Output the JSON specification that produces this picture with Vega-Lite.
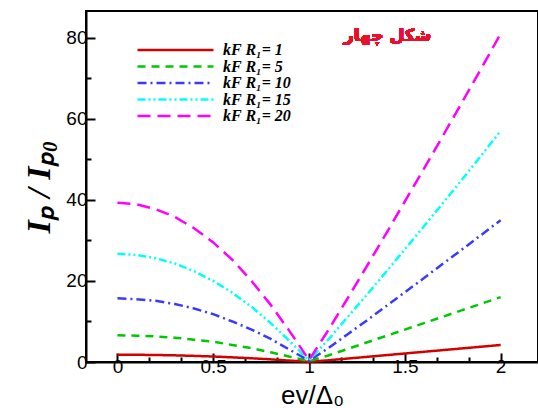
{
"$schema": "https://vega.github.io/schema/vega-lite/v6.json",
"width": 452, "height": 351,
"autosize": {"type": "none"},
"padding": {"left": 86, "top": 11, "right": 0, "bottom": 46},
"background": "white",
"config": {
 "view": {"stroke": "black", "strokeWidth": 2},
 "axis": {"grid": false, "domainColor": "black", "domainWidth": 2, "tickColor": "black", "tickWidth": 2, "labelFont": "Liberation Sans", "labelFontSize": 19, "labelColor": "black", "labelOverlap": false, "labelBound": false, "titleColor": "black"}
},
"data": {"values": [
{"s":"kF R₁= 1","x":0,"y":1.8},{"s":"kF R₁= 1","x":0.1,"y":1.78},{"s":"kF R₁= 1","x":0.2,"y":1.73},{"s":"kF R₁= 1","x":0.3,"y":1.64},{"s":"kF R₁= 1","x":0.4,"y":1.51},{"s":"kF R₁= 1","x":0.5,"y":1.35},{"s":"kF R₁= 1","x":0.6,"y":1.15},{"s":"kF R₁= 1","x":0.7,"y":0.92},{"s":"kF R₁= 1","x":0.8,"y":0.65},{"s":"kF R₁= 1","x":0.9,"y":0.34},{"s":"kF R₁= 1","x":1,"y":0.05},{"s":"kF R₁= 1","x":1.1,"y":0.42},{"s":"kF R₁= 1","x":1.2,"y":0.84},{"s":"kF R₁= 1","x":1.3,"y":1.26},{"s":"kF R₁= 1","x":1.4,"y":1.68},{"s":"kF R₁= 1","x":1.5,"y":2.1},{"s":"kF R₁= 1","x":1.6,"y":2.52},{"s":"kF R₁= 1","x":1.7,"y":2.94},{"s":"kF R₁= 1","x":1.8,"y":3.36},{"s":"kF R₁= 1","x":1.9,"y":3.78},{"s":"kF R₁= 1","x":2,"y":4.2},
{"s":"kF R₁= 5","x":0,"y":6.6},{"s":"kF R₁= 5","x":0.1,"y":6.5},{"s":"kF R₁= 5","x":0.2,"y":6.3},{"s":"kF R₁= 5","x":0.3,"y":6.0},{"s":"kF R₁= 5","x":0.4,"y":5.5},{"s":"kF R₁= 5","x":0.5,"y":5.0},{"s":"kF R₁= 5","x":0.6,"y":4.2},{"s":"kF R₁= 5","x":0.7,"y":3.4},{"s":"kF R₁= 5","x":0.8,"y":2.4},{"s":"kF R₁= 5","x":0.9,"y":1.3},{"s":"kF R₁= 5","x":1,"y":0.2},{"s":"kF R₁= 5","x":1.1,"y":1.6},{"s":"kF R₁= 5","x":1.2,"y":3.2},{"s":"kF R₁= 5","x":1.3,"y":4.8},{"s":"kF R₁= 5","x":1.4,"y":6.4},{"s":"kF R₁= 5","x":1.5,"y":8.0},{"s":"kF R₁= 5","x":1.6,"y":9.6},{"s":"kF R₁= 5","x":1.7,"y":11.2},{"s":"kF R₁= 5","x":1.8,"y":12.8},{"s":"kF R₁= 5","x":1.9,"y":14.4},{"s":"kF R₁= 5","x":2,"y":16.0},
{"s":"kF R₁= 10","x":0,"y":15.7},{"s":"kF R₁= 10","x":0.1,"y":15.5},{"s":"kF R₁= 10","x":0.2,"y":15.1},{"s":"kF R₁= 10","x":0.3,"y":14.3},{"s":"kF R₁= 10","x":0.4,"y":13.2},{"s":"kF R₁= 10","x":0.5,"y":11.8},{"s":"kF R₁= 10","x":0.6,"y":10.0},{"s":"kF R₁= 10","x":0.7,"y":8.0},{"s":"kF R₁= 10","x":0.8,"y":5.7},{"s":"kF R₁= 10","x":0.9,"y":3.0},{"s":"kF R₁= 10","x":1,"y":0.3},{"s":"kF R₁= 10","x":1.1,"y":3.4},{"s":"kF R₁= 10","x":1.2,"y":6.8},{"s":"kF R₁= 10","x":1.3,"y":10.2},{"s":"kF R₁= 10","x":1.4,"y":13.7},{"s":"kF R₁= 10","x":1.5,"y":17.2},{"s":"kF R₁= 10","x":1.6,"y":20.7},{"s":"kF R₁= 10","x":1.7,"y":24.3},{"s":"kF R₁= 10","x":1.8,"y":27.8},{"s":"kF R₁= 10","x":1.9,"y":31.4},{"s":"kF R₁= 10","x":2,"y":35.0},
{"s":"kF R₁= 15","x":0,"y":26.7},{"s":"kF R₁= 15","x":0.1,"y":26.4},{"s":"kF R₁= 15","x":0.2,"y":25.6},{"s":"kF R₁= 15","x":0.3,"y":24.3},{"s":"kF R₁= 15","x":0.4,"y":22.4},{"s":"kF R₁= 15","x":0.5,"y":20.0},{"s":"kF R₁= 15","x":0.6,"y":17.1},{"s":"kF R₁= 15","x":0.7,"y":13.6},{"s":"kF R₁= 15","x":0.8,"y":9.6},{"s":"kF R₁= 15","x":0.9,"y":5.1},{"s":"kF R₁= 15","x":1,"y":0.4},{"s":"kF R₁= 15","x":1.1,"y":5.5},{"s":"kF R₁= 15","x":1.2,"y":11.0},{"s":"kF R₁= 15","x":1.3,"y":16.5},{"s":"kF R₁= 15","x":1.4,"y":22.1},{"s":"kF R₁= 15","x":1.5,"y":27.8},{"s":"kF R₁= 15","x":1.6,"y":33.5},{"s":"kF R₁= 15","x":1.7,"y":39.3},{"s":"kF R₁= 15","x":1.8,"y":45.1},{"s":"kF R₁= 15","x":1.9,"y":51.0},{"s":"kF R₁= 15","x":2,"y":57.0},
{"s":"kF R₁= 20","x":0,"y":39.3},{"s":"kF R₁= 20","x":0.1,"y":38.9},{"s":"kF R₁= 20","x":0.2,"y":37.7},{"s":"kF R₁= 20","x":0.3,"y":35.8},{"s":"kF R₁= 20","x":0.4,"y":33.0},{"s":"kF R₁= 20","x":0.5,"y":29.5},{"s":"kF R₁= 20","x":0.6,"y":25.2},{"s":"kF R₁= 20","x":0.7,"y":20.0},{"s":"kF R₁= 20","x":0.8,"y":14.1},{"s":"kF R₁= 20","x":0.9,"y":7.5},{"s":"kF R₁= 20","x":1,"y":0.5},{"s":"kF R₁= 20","x":1.1,"y":7.8},{"s":"kF R₁= 20","x":1.2,"y":15.6},{"s":"kF R₁= 20","x":1.3,"y":23.5},{"s":"kF R₁= 20","x":1.4,"y":31.5},{"s":"kF R₁= 20","x":1.5,"y":39.6},{"s":"kF R₁= 20","x":1.6,"y":47.7},{"s":"kF R₁= 20","x":1.7,"y":55.9},{"s":"kF R₁= 20","x":1.8,"y":64.2},{"s":"kF R₁= 20","x":1.9,"y":72.5},{"s":"kF R₁= 20","x":2,"y":81.0}
]},
"layer": [
 {"mark": {"type": "line", "strokeWidth": 2.5},
  "encoding": {
   "x": {"field": "x", "type": "quantitative", "scale": {"domain": [-0.164, 2.195], "nice": false, "zero": false},
     "axis": {"values": [0, 0.16667, 0.33333, 0.5, 0.66667, 0.83333, 1, 1.16667, 1.33333, 1.5, 1.66667, 1.83333, 2],
       "tickCount": 30,
       "tickSize": {"condition": {"test": "abs(datum.value*2 - round(datum.value*2)) < 0.001", "value": -9}, "value": -5},
       "labelExpr": "abs(datum.value*2 - round(datum.value*2)) < 0.001 ? format(datum.value, '~g') : ''",
       "labelOverlap": false,
       "labelFlush": false,
       "labelPadding": 4,
       "title": "ev/Δ₀", "titleFont": "Liberation Sans", "titleFontSize": 26, "titleFontWeight": "normal", "titlePadding": 2}},
   "y": {"field": "y", "type": "quantitative", "scale": {"domain": [0, 86.6], "nice": false},
     "axis": {"values": [0, 10, 20, 30, 40, 50, 60, 70, 80],
       "tickCount": 30,
       "tickSize": {"condition": {"test": "datum.value % 20 === 0", "value": -9}, "value": -5},
       "labelExpr": "datum.value % 20 === 0 ? datum.label : ''",
       "labelOverlap": false,
       "labelPadding": 8,
       "title": "Iₚ / Iₚ₀", "titleFont": "Liberation Serif", "titleFontSize": 34, "titleFontStyle": "italic", "titleFontWeight": "bold", "titlePadding": 9}},
   "color": {"field": "s", "type": "nominal",
     "scale": {"domain": ["kF R₁= 1", "kF R₁= 5", "kF R₁= 10", "kF R₁= 15", "kF R₁= 20"], "range": ["#d40000", "#00c800", "#3a3aff", "#00ffff", "#ff00ff"]},
     "legend": {"orient": "none", "legendX": 50, "legendY": 31, "title": null, "symbolType": "stroke", "symbolSize": 5776, "symbolStrokeWidth": 2.5, "clipHeight": 16, "rowPadding": 0.5, "labelFont": "Liberation Serif", "labelFontStyle": "italic", "labelFontWeight": "bold", "labelFontSize": 16, "labelColor": "black", "labelOffset": 8}},
   "strokeDash": {"field": "s", "type": "nominal",
     "scale": {"domain": ["kF R₁= 1", "kF R₁= 5", "kF R₁= 10", "kF R₁= 15", "kF R₁= 20"], "range": [[1, 0], [8, 6], [9, 4, 2, 4], [8, 3, 2, 3, 2, 3], [13, 7]]},
     "legend": {"orient": "none", "legendX": 50, "legendY": 31, "title": null, "symbolType": "stroke", "symbolSize": 5776, "symbolStrokeWidth": 2.5, "clipHeight": 16, "rowPadding": 0.5, "labelFont": "Liberation Serif", "labelFontStyle": "italic", "labelFontWeight": "bold", "labelFontSize": 16, "labelColor": "black", "labelOffset": 8}}
  }},
 {"mark": {"type": "text", "text": "شکل چهار", "font": "DejaVu Sans", "fontSize": 17, "fontWeight": "bold", "color": "#e8102a"},
  "encoding": {"x": {"datum": 1.41}, "y": {"datum": 80.4}}}
]
}
